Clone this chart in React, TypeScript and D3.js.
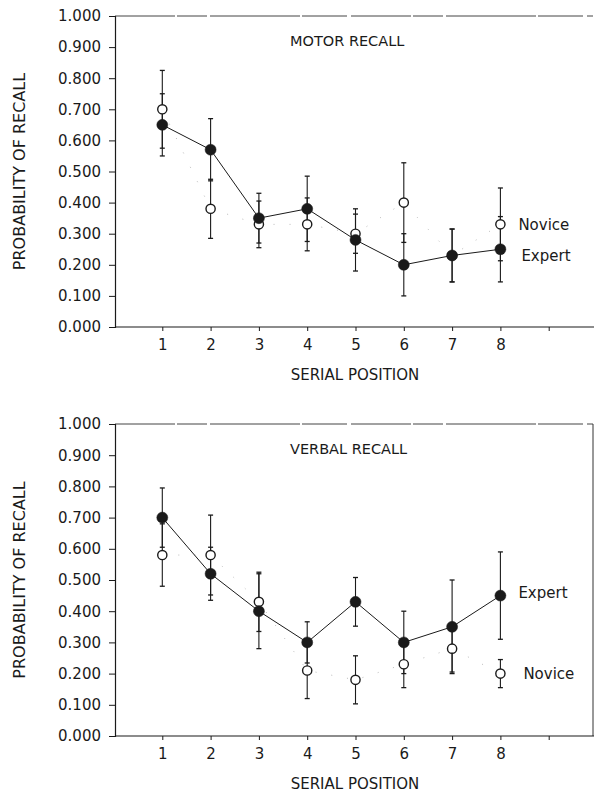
import React, { useEffect, useRef } from 'react';
import * as d3 from 'd3';

// serial positions 1..8
const positions = [1, 2, 3, 4, 5, 6, 7, 8];
const yTicks = [0, 0.1, 0.2, 0.3, 0.4, 0.5, 0.6, 0.7, 0.8, 0.9, 1.0];
const xTicks = [1, 2, 3, 4, 5, 6, 7, 8, 9];

// motor recall
const motorExpert = [0.65, 0.57, 0.35, 0.38, 0.28, 0.2, 0.23, 0.25];
const motorExpertErr = [0.1, 0.1, 0.08, 0.105, 0.1, 0.1, 0.085, 0.105];
const motorNovice = [0.7, 0.38, 0.33, 0.33, 0.3, 0.4, 0.23, 0.33];
const motorNoviceErr = [0.125, 0.095, 0.075, 0.085, 0.063, 0.128, 0.085, 0.117];

// verbal recall
const verbalExpert = [0.7, 0.52, 0.4, 0.3, 0.43, 0.3, 0.35, 0.45];
const verbalExpertErr = [0.095, 0.085, 0.12, 0.066, 0.078, 0.1, 0.15, 0.14];
const verbalNovice = [0.58, 0.58, 0.43, 0.21, 0.18, 0.23, 0.28, 0.2];
const verbalNoviceErr = [0.1, 0.128, 0.095, 0.09, 0.077, 0.075, 0.075, 0.045];

const FONT = '"DejaVu Sans", sans-serif';
const INK = '#1a1a1a';

const panels = [
  {
    title: 'MOTOR RECALL',
    top: 16, bottom: 327, rightBorder: false,
    expert: motorExpert, expertErr: motorExpertErr,
    novice: motorNovice, noviceErr: motorNoviceErr,
    expertDy: 6, noviceDy: 0, expertDx: 21, noviceDx: 18,
  },
  {
    title: 'VERBAL RECALL',
    top: 424, bottom: 736, rightBorder: true,
    expert: verbalExpert, expertErr: verbalExpertErr,
    novice: verbalNovice, noviceErr: verbalNoviceErr,
    expertDy: -3, noviceDy: 0, expertDx: 18, noviceDx: 23,
  },
];

const App = () => {
  const svgRef = useRef(null);

  useEffect(() => {
    const svg = d3.select(svgRef.current);
    svg.selectAll('*').remove();

    const x = d3.scaleLinear().domain([0, 10]).range([114, 597]);
    const left = 115;
    const right = 593;

    panels.forEach((p) => {
      const y = d3.scaleLinear().domain([0, 1]).range([p.bottom, p.top]);
      const g = svg.append('g');

      // frame (scanned look: mostly solid with a few breaks)
      g.append('line')
        .attr('x1', left).attr('x2', right)
        .attr('y1', p.top).attr('y2', p.top)
        .attr('stroke', '#444').attr('stroke-width', 1)
        .attr('stroke-dasharray', '60,2,30,3,90,2,45,4');
      if (p.rightBorder) {
        g.append('line')
          .attr('x1', right).attr('x2', right)
          .attr('y1', p.top).attr('y2', p.bottom)
          .attr('stroke', '#333').attr('stroke-width', 1);
      }

      // y axis
      const yAxis = d3.axisLeft(y)
        .tickValues(yTicks)
        .tickFormat(d3.format('.3f'))
        .tickSize(6)
        .tickPadding(8);
      const ya = g.append('g')
        .attr('transform', `translate(${left},0)`)
        .call(yAxis);
      ya.select('.domain').attr('stroke', INK).attr('stroke-width', 1.2);
      ya.selectAll('.tick line').attr('stroke', INK);
      ya.selectAll('.tick text')
        .attr('font-family', FONT).attr('font-size', 15).attr('fill', INK);

      // x axis
      const xAxis = d3.axisBottom(x)
        .tickValues(xTicks)
        .tickFormat((d) => (d <= 8 ? String(d) : ''))
        .tickSize(4)
        .tickPadding(8)
        .tickSizeOuter(0);
      const xa = g.append('g')
        .attr('transform', `translate(0,${p.bottom})`)
        .call(xAxis);
      xa.select('.domain').remove();
      xa.append('line')
        .attr('x1', left).attr('x2', 594)
        .attr('stroke', INK).attr('stroke-width', 1.2);
      xa.selectAll('.tick line').attr('stroke', INK);
      xa.selectAll('.tick text')
        .attr('font-family', FONT).attr('font-size', 15).attr('fill', INK);

      // axis titles
      g.append('text')
        .attr('transform', `translate(25,${(p.top + p.bottom) / 2}) rotate(-90)`)
        .attr('text-anchor', 'middle')
        .attr('font-family', FONT).attr('font-size', 16).attr('fill', INK)
        .text('PROBABILITY OF RECALL');
      g.append('text')
        .attr('x', 355).attr('y', p.bottom + 53)
        .attr('text-anchor', 'middle')
        .attr('font-family', FONT).attr('font-size', 15).attr('fill', INK)
        .text('SERIAL POSITION');
      g.append('text')
        .attr('x', 290).attr('y', p.top + 30)
        .attr('font-family', FONT).attr('font-size', 14.5).attr('fill', INK)
        .text(p.title);

      const series = [
        { vals: p.novice, err: p.noviceErr, filled: false },
        { vals: p.expert, err: p.expertErr, filled: true },
      ];

      // novice faint dotted connection (barely survives in the print)
      g.append('path')
        .datum(positions.map((pos, i) => [pos, p.novice[i]]))
        .attr('fill', 'none').attr('stroke', '#bbb').attr('stroke-width', 1)
        .attr('stroke-dasharray', '1,15')
        .attr('d', d3.line().x((d) => x(d[0])).y((d) => y(d[1])));

      // expert connecting line
      g.append('path')
        .datum(positions.map((pos, i) => [pos, p.expert[i]]))
        .attr('fill', 'none').attr('stroke', INK).attr('stroke-width', 1)
        .attr('d', d3.line().x((d) => x(d[0])).y((d) => y(d[1])));

      series.forEach((s) => {
        const rows = positions.map((pos, i) => ({ pos, v: s.vals[i], e: s.err[i] }));
        // error bars
        const eb = g.append('g').selectAll('g').data(rows).enter().append('g');
        eb.append('line')
          .attr('x1', (d) => x(d.pos)).attr('x2', (d) => x(d.pos))
          .attr('y1', (d) => y(d.v + d.e)).attr('y2', (d) => y(d.v - d.e))
          .attr('stroke', INK).attr('stroke-width', 1.1);
        [1, -1].forEach((sign) => {
          eb.append('line')
            .attr('x1', (d) => x(d.pos) - 2.5).attr('x2', (d) => x(d.pos) + 2.5)
            .attr('y1', (d) => y(d.v + sign * d.e)).attr('y2', (d) => y(d.v + sign * d.e))
            .attr('stroke', INK).attr('stroke-width', 1.3);
        });
      });

      series.forEach((s) => {
        const rows = positions.map((pos, i) => ({ pos, v: s.vals[i] }));
        g.append('g').selectAll('circle').data(rows).enter().append('circle')
          .attr('cx', (d) => x(d.pos)).attr('cy', (d) => y(d.v))
          .attr('r', s.filled ? 5.5 : 4.6)
          .attr('fill', s.filled ? INK : '#fff')
          .attr('stroke', INK)
          .attr('stroke-width', s.filled ? 0.5 : 1.4);
      });

      // series labels beside the last point
      const last = positions.length - 1;
      g.append('text')
        .attr('x', x(positions[last]) + p.noviceDx)
        .attr('y', y(p.novice[last]) + p.noviceDy)
        .attr('dy', '0.35em')
        .attr('font-family', FONT).attr('font-size', 15).attr('fill', INK)
        .text('Novice');
      g.append('text')
        .attr('x', x(positions[last]) + p.expertDx)
        .attr('y', y(p.expert[last]) + p.expertDy)
        .attr('dy', '0.35em')
        .attr('font-family', FONT).attr('font-size', 15).attr('fill', INK)
        .text('Expert');
    });
  }, []);

  return (
    <svg
      ref={svgRef}
      width="594"
      height="800"
      style={{ position: 'absolute', left: 0, top: 0, background: '#fff' }}
    />
  );
};

export default App;
